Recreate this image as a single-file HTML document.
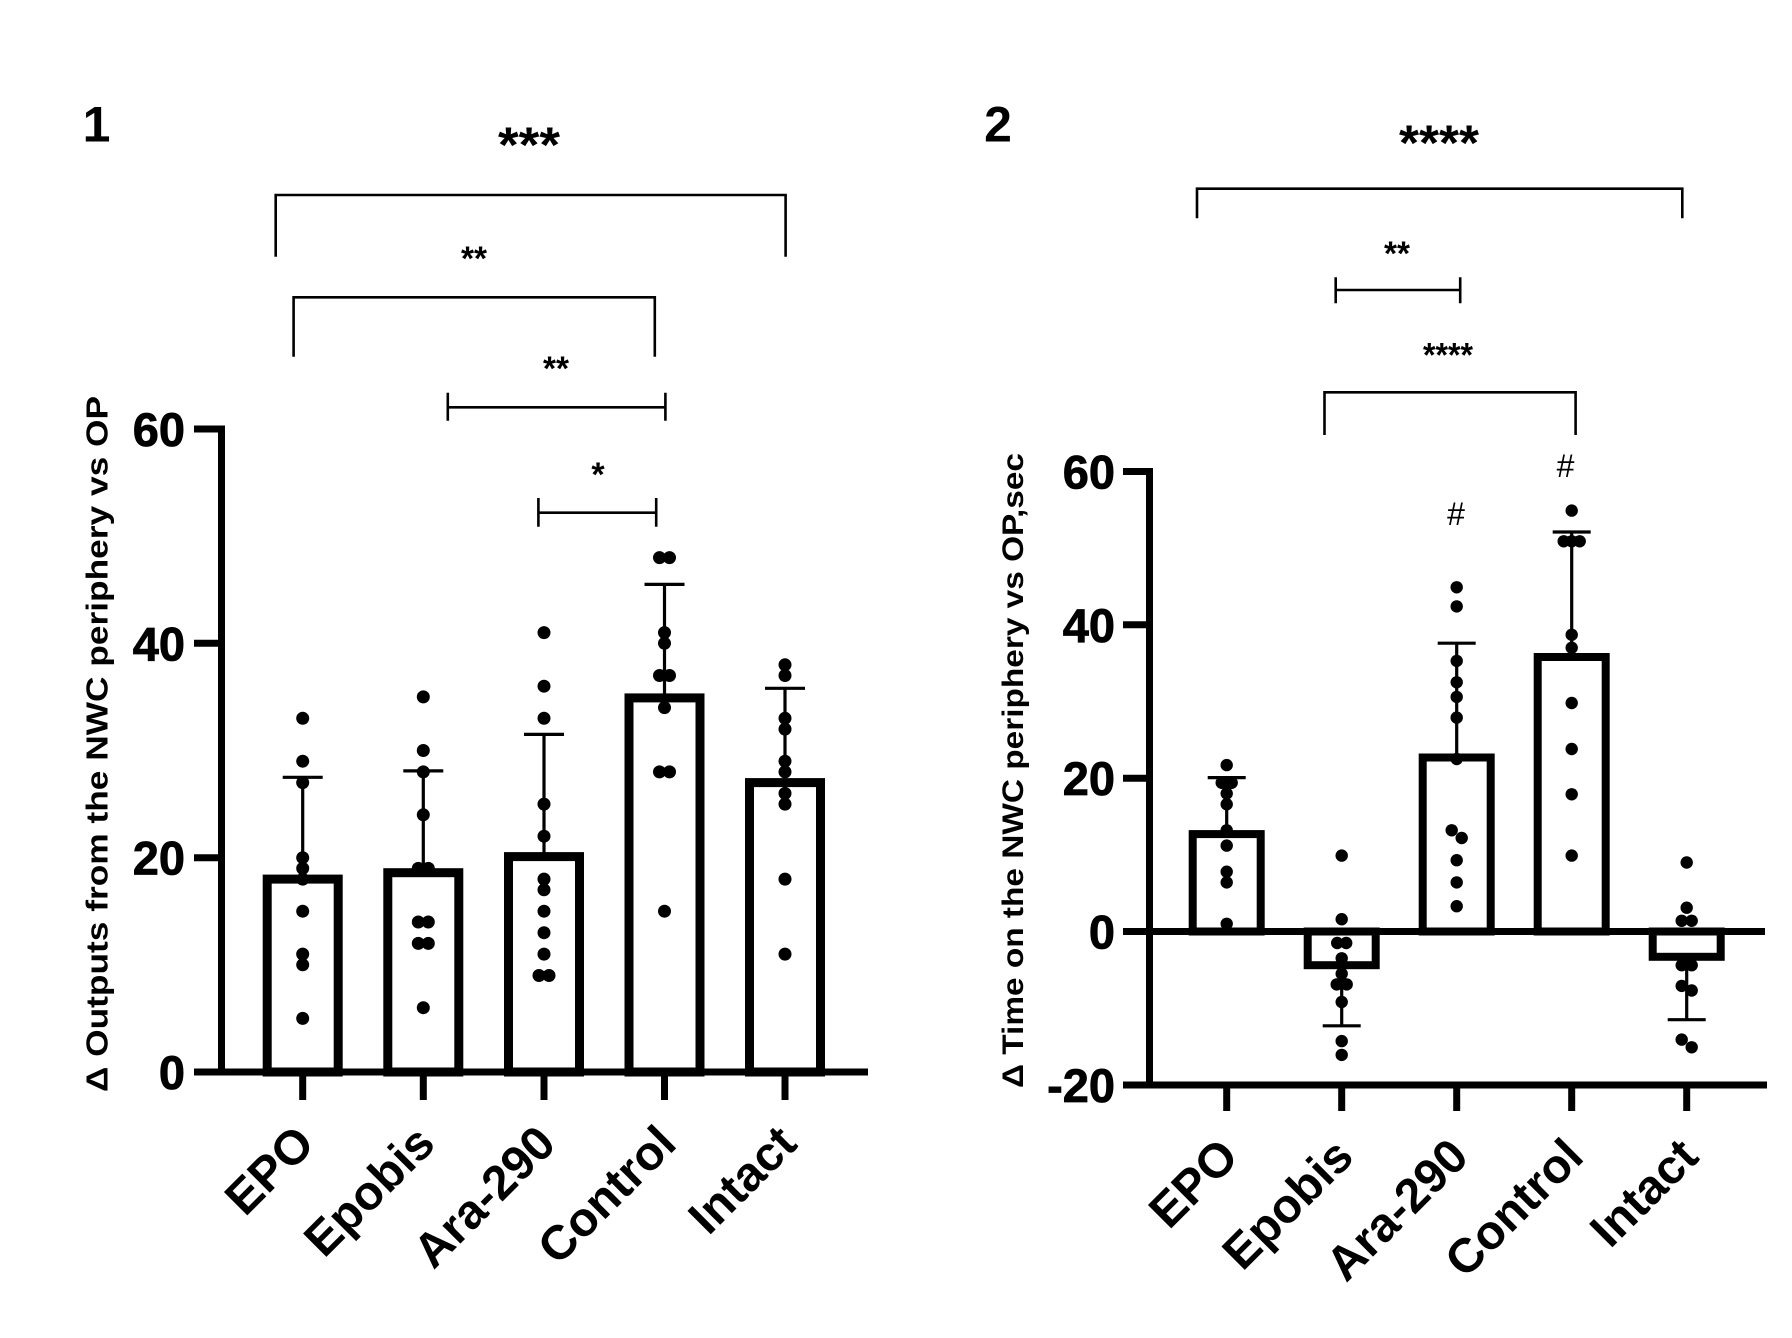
<!DOCTYPE html>
<html>
<head>
<meta charset="utf-8">
<style>
html,body{margin:0;padding:0;background:#fff;}
svg{display:block;}
text{font-family:"Liberation Sans",Arial,sans-serif;fill:#000;}
</style>
</head>
<body>
<svg width="1792" height="1338" viewBox="0 0 1792 1338" xmlns="http://www.w3.org/2000/svg">
<rect width="1792" height="1338" fill="#fff"/>

<!-- ================= PANEL 1 ================= -->
<text x="96.5" y="141.7" font-size="50" font-weight="bold" text-anchor="middle">1</text>

<!-- significance brackets -->
<g fill="none" stroke="#000" stroke-width="2.6">
  <path d="M275.7,256.7 V195 H785.6 V256.7"/>
  <path d="M293.6,356.7 V297.3 H654.8 V356.7"/>
  <path d="M447.8,407.3 H665.4 M447.8,392.7 V420.7 M665.4,392.7 V420.7"/>
  <path d="M538.4,512.7 H656.2 M538.4,498 V526.7 M656.2,498 V526.7"/>
</g>
<text x="529" y="162" font-size="50" font-weight="bold" text-anchor="middle" textLength="62" lengthAdjust="spacingAndGlyphs">***</text>
<text x="474" y="270" font-size="34" font-weight="bold" text-anchor="middle" textLength="26" lengthAdjust="spacingAndGlyphs">**</text>
<text x="556" y="380" font-size="34" font-weight="bold" text-anchor="middle" textLength="26" lengthAdjust="spacingAndGlyphs">**</text>
<text x="598" y="486" font-size="34" font-weight="bold" text-anchor="middle">*</text>

<!-- bars -->
<g fill="#fff" stroke="#000" stroke-width="9">
  <rect x="267.2" y="879.1" width="71" height="192.9"/>
  <rect x="387.8" y="872.7" width="71" height="199.3"/>
  <rect x="508.5" y="856.6" width="71" height="215.4"/>
  <rect x="629" y="697.9" width="71" height="374.1"/>
  <rect x="749.5" y="782.6" width="71" height="289.4"/>
</g>
<!-- error bars -->
<g stroke="#000" stroke-width="3.2" fill="none">
  <path d="M302.7,879.1 V777.3 M282.7,777.3 H322.7"/>
  <path d="M423.3,872.7 V770.9 M403.3,770.9 H443.3"/>
  <path d="M544,856.6 V734.4 M524,734.4 H564"/>
  <path d="M664.5,697.9 V584.4 M644.5,584.4 H684.5"/>
  <path d="M785,782.6 V688.3 M765,688.3 H805"/>
</g>
<!-- dots -->
<g fill="#000">
  <!-- EPO -->
  <circle cx="302.7" cy="718.3" r="6.5"/><circle cx="302.7" cy="761.2" r="6.5"/><circle cx="302.7" cy="782.6" r="6.5"/>
  <circle cx="302.7" cy="857.7" r="6.5"/><circle cx="302.7" cy="868.4" r="6.5"/><circle cx="302.7" cy="879.1" r="6.5"/>
  <circle cx="302.7" cy="911.2" r="6.5"/><circle cx="302.7" cy="954.1" r="6.5"/><circle cx="302.7" cy="964.8" r="6.5"/>
  <circle cx="302.7" cy="1018.4" r="6.5"/>
  <!-- Epobis -->
  <circle cx="423.3" cy="696.9" r="6.5"/><circle cx="423.3" cy="750.5" r="6.5"/><circle cx="423.3" cy="771.9" r="6.5"/>
  <circle cx="423.3" cy="814.8" r="6.5"/><circle cx="418.3" cy="868.4" r="6.5"/><circle cx="428.3" cy="868.4" r="6.5"/>
  <circle cx="418.3" cy="922" r="6.5"/><circle cx="428.3" cy="922" r="6.5"/>
  <circle cx="418.3" cy="943.4" r="6.5"/><circle cx="428.3" cy="943.4" r="6.5"/>
  <circle cx="423.3" cy="1007.7" r="6.5"/>
  <!-- Ara-290 -->
  <circle cx="544" cy="632.6" r="6.5"/><circle cx="544" cy="686.2" r="6.5"/><circle cx="544" cy="718.3" r="6.5"/>
  <circle cx="544" cy="804.1" r="6.5"/><circle cx="544" cy="836.2" r="6.5"/><circle cx="544" cy="879.1" r="6.5"/>
  <circle cx="544" cy="889.8" r="6.5"/><circle cx="544" cy="911.2" r="6.5"/><circle cx="544" cy="932.7" r="6.5"/>
  <circle cx="544" cy="954.1" r="6.5"/><circle cx="539" cy="975.5" r="6.5"/><circle cx="549" cy="975.5" r="6.5"/>
  <!-- Control -->
  <circle cx="659.5" cy="557.6" r="6.5"/><circle cx="669.5" cy="557.6" r="6.5"/>
  <circle cx="664.5" cy="632.6" r="6.5"/><circle cx="664.5" cy="643.3" r="6.5"/>
  <circle cx="659.5" cy="675.5" r="6.5"/><circle cx="669.5" cy="675.5" r="6.5"/>
  <circle cx="664.5" cy="707.6" r="6.5"/>
  <circle cx="659.5" cy="771.9" r="6.5"/><circle cx="669.5" cy="771.9" r="6.5"/>
  <circle cx="664.5" cy="911.2" r="6.5"/>
  <!-- Intact -->
  <circle cx="785" cy="664.8" r="6.5"/><circle cx="785" cy="675.5" r="6.5"/><circle cx="785" cy="718.3" r="6.5"/>
  <circle cx="785" cy="729.1" r="6.5"/><circle cx="785" cy="761.2" r="6.5"/><circle cx="785" cy="771.9" r="6.5"/>
  <circle cx="785" cy="793.4" r="6.5"/><circle cx="785" cy="804.1" r="6.5"/><circle cx="785" cy="879.1" r="6.5"/>
  <circle cx="785" cy="954.1" r="6.5"/>
</g>
<!-- axes -->
<g stroke="#000" stroke-width="7" fill="none">
  <path d="M221.5,425.5 V1075.5"/>
  <path d="M194,429 H221.5 M194,643.3 H221.5 M194,857.7 H221.5"/>
  <path d="M194,1072 H868"/>
  <path d="M302.7,1072 V1100 M423.3,1072 V1100 M544,1072 V1100 M664.5,1072 V1100 M785,1072 V1100"/>
</g>
<g font-size="47" font-weight="bold" text-anchor="end" stroke="#000" stroke-width="0.8">
  <text x="185" y="446">60</text>
  <text x="185" y="660.3">40</text>
  <text x="185" y="874.7">20</text>
  <text x="185" y="1089">0</text>
</g>
<text transform="translate(107.5,744) rotate(-90)" font-size="31" font-weight="bold" text-anchor="middle" textLength="696" lengthAdjust="spacingAndGlyphs">Δ Outputs from the NWC periphery vs OP</text>
<g font-size="48" font-weight="bold" text-anchor="end">
  <text transform="translate(316.7,1146) rotate(-45)">EPO</text>
  <text transform="translate(437.3,1146) rotate(-45)">Epobis</text>
  <text transform="translate(558,1146) rotate(-45)">Ara-290</text>
  <text transform="translate(678.5,1146) rotate(-45)">Control</text>
  <text transform="translate(799,1146) rotate(-45)">Intact</text>
</g>

<!-- ================= PANEL 2 ================= -->
<text x="998" y="141.7" font-size="50" font-weight="bold" text-anchor="middle">2</text>

<g fill="none" stroke="#000" stroke-width="2.6">
  <path d="M1197,218.3 V188.7 H1682.3 V218.3"/>
  <path d="M1335.7,290 H1460.2 M1335.7,277.3 V303.3 M1460.2,277.3 V303.3"/>
  <path d="M1324.5,435 V392.3 H1575.6 V435"/>
</g>
<text x="1439" y="160" font-size="50" font-weight="bold" text-anchor="middle" textLength="80" lengthAdjust="spacingAndGlyphs">****</text>
<text x="1397" y="265" font-size="34" font-weight="bold" text-anchor="middle" textLength="26" lengthAdjust="spacingAndGlyphs">**</text>
<text x="1448" y="366.6" font-size="34" font-weight="bold" text-anchor="middle" textLength="50" lengthAdjust="spacingAndGlyphs">****</text>
<text x="1456" y="525" font-size="32" text-anchor="middle">#</text>
<text x="1565.5" y="477" font-size="32" text-anchor="middle">#</text>

<!-- bars -->
<g fill="#fff" stroke="#000" stroke-width="8">
  <rect x="1192.7" y="834.1" width="68" height="97.4"/>
  <rect x="1307.7" y="931.5" width="68" height="33.7"/>
  <rect x="1422.7" y="757.5" width="68" height="174"/>
  <rect x="1537.7" y="657" width="68" height="274.5"/>
  <rect x="1652.7" y="931.5" width="68" height="25.3"/>
</g>
<g stroke="#000" stroke-width="3.2" fill="none">
  <path d="M1226.7,834.1 V777.6 M1207.7,777.6 H1245.7"/>
  <path d="M1341.7,965.2 V1025.8 M1322.7,1025.8 H1360.7"/>
  <path d="M1456.7,757.5 V643.2 M1437.7,643.2 H1475.7"/>
  <path d="M1571.7,657 V532 M1552.7,532 H1590.7"/>
  <path d="M1686.7,956.8 V1019.7 M1667.7,1019.7 H1705.7"/>
</g>
<g fill="#000">
  <!-- EPO -->
  <circle cx="1226.7" cy="765.1" r="6.2"/><circle cx="1221.7" cy="782.8" r="6.2"/><circle cx="1231.7" cy="782.8" r="6.2"/>
  <circle cx="1226.7" cy="793.5" r="6.2"/><circle cx="1226.7" cy="804.2" r="6.2"/><circle cx="1226.7" cy="830.3" r="6.2"/>
  <circle cx="1226.7" cy="845.6" r="6.2"/><circle cx="1226.7" cy="871.7" r="6.2"/><circle cx="1226.7" cy="882.4" r="6.2"/>
  <circle cx="1226.7" cy="923.8" r="6.2"/>
  <!-- Epobis -->
  <circle cx="1341.7" cy="855.6" r="6.2"/><circle cx="1341.7" cy="919.2" r="6.2"/>
  <circle cx="1337.2" cy="943" r="6.2"/><circle cx="1346.2" cy="943" r="6.2"/>
  <circle cx="1341.7" cy="958.3" r="6.2"/><circle cx="1341.7" cy="973.7" r="6.2"/>
  <circle cx="1336.7" cy="984.4" r="6.2"/><circle cx="1346.7" cy="984.4" r="6.2"/>
  <circle cx="1341.7" cy="1002" r="6.2"/><circle cx="1341.7" cy="1041.1" r="6.2"/><circle cx="1341.7" cy="1054.9" r="6.2"/>
  <!-- Ara -->
  <circle cx="1456.7" cy="587.3" r="6.2"/><circle cx="1456.7" cy="606.4" r="6.2"/><circle cx="1456.7" cy="660.9" r="6.2"/>
  <circle cx="1456.7" cy="682.3" r="6.2"/><circle cx="1456.7" cy="696.9" r="6.2"/><circle cx="1456.7" cy="717.6" r="6.2"/>
  <circle cx="1456.7" cy="759" r="6.2"/><circle cx="1451.7" cy="830.3" r="6.2"/><circle cx="1461.7" cy="838" r="6.2"/>
  <circle cx="1456.7" cy="860.2" r="6.2"/><circle cx="1456.7" cy="882.4" r="6.2"/><circle cx="1456.7" cy="906.2" r="6.2"/>
  <!-- Control -->
  <circle cx="1571.7" cy="510.6" r="6.2"/>
  <circle cx="1563.7" cy="541.3" r="6.2"/><circle cx="1571.7" cy="541.3" r="6.2"/><circle cx="1579.7" cy="541.3" r="6.2"/>
  <circle cx="1571.7" cy="634.8" r="6.2"/><circle cx="1571.7" cy="647.8" r="6.2"/><circle cx="1571.7" cy="703" r="6.2"/>
  <circle cx="1571.7" cy="749" r="6.2"/><circle cx="1571.7" cy="794.3" r="6.2"/><circle cx="1571.7" cy="855.6" r="6.2"/>
  <!-- Intact -->
  <circle cx="1686.7" cy="862.5" r="6.2"/><circle cx="1686.7" cy="907.7" r="6.2"/>
  <circle cx="1681.7" cy="920.8" r="6.2"/><circle cx="1691.7" cy="920.8" r="6.2"/>
  <circle cx="1681.7" cy="965.2" r="6.2"/><circle cx="1691.7" cy="965.2" r="6.2"/>
  <circle cx="1681.7" cy="985.9" r="6.2"/><circle cx="1691.7" cy="990.5" r="6.2"/>
  <circle cx="1681.7" cy="1039.6" r="6.2"/><circle cx="1691.7" cy="1047.3" r="6.2"/>
</g>
<g stroke="#000" stroke-width="7" fill="none">
  <path d="M1149.5,468 V1088.3"/>
  <path d="M1123,471.5 H1149.5 M1123,624.8 H1149.5 M1123,778.2 H1149.5"/>
  <path d="M1123,931.5 H1765"/>
  <path d="M1123,1085 H1767"/>
  <path d="M1226.7,1085 V1111 M1341.7,1085 V1111 M1456.7,1085 V1111 M1571.7,1085 V1111 M1686.7,1085 V1111"/>
</g>
<g font-size="47" font-weight="bold" text-anchor="end" stroke="#000" stroke-width="0.8">
  <text x="1115" y="488.5">60</text>
  <text x="1115" y="641.8">40</text>
  <text x="1115" y="795.2">20</text>
  <text x="1115" y="948.5">0</text>
  <text x="1115" y="1101.8">-20</text>
</g>
<text transform="translate(1023,770.5) rotate(-90)" font-size="30" font-weight="bold" text-anchor="middle" textLength="635" lengthAdjust="spacingAndGlyphs">Δ Time on the NWC periphery vs OP,sec</text>
<g font-size="48" font-weight="bold" text-anchor="end">
  <text transform="translate(1240.7,1159) rotate(-45)">EPO</text>
  <text transform="translate(1355.7,1159) rotate(-45)">Epobis</text>
  <text transform="translate(1470.7,1159) rotate(-45)">Ara-290</text>
  <text transform="translate(1585.7,1159) rotate(-45)">Control</text>
  <text transform="translate(1700.7,1159) rotate(-45)">Intact</text>
</g>
</svg>
</body>
</html>
